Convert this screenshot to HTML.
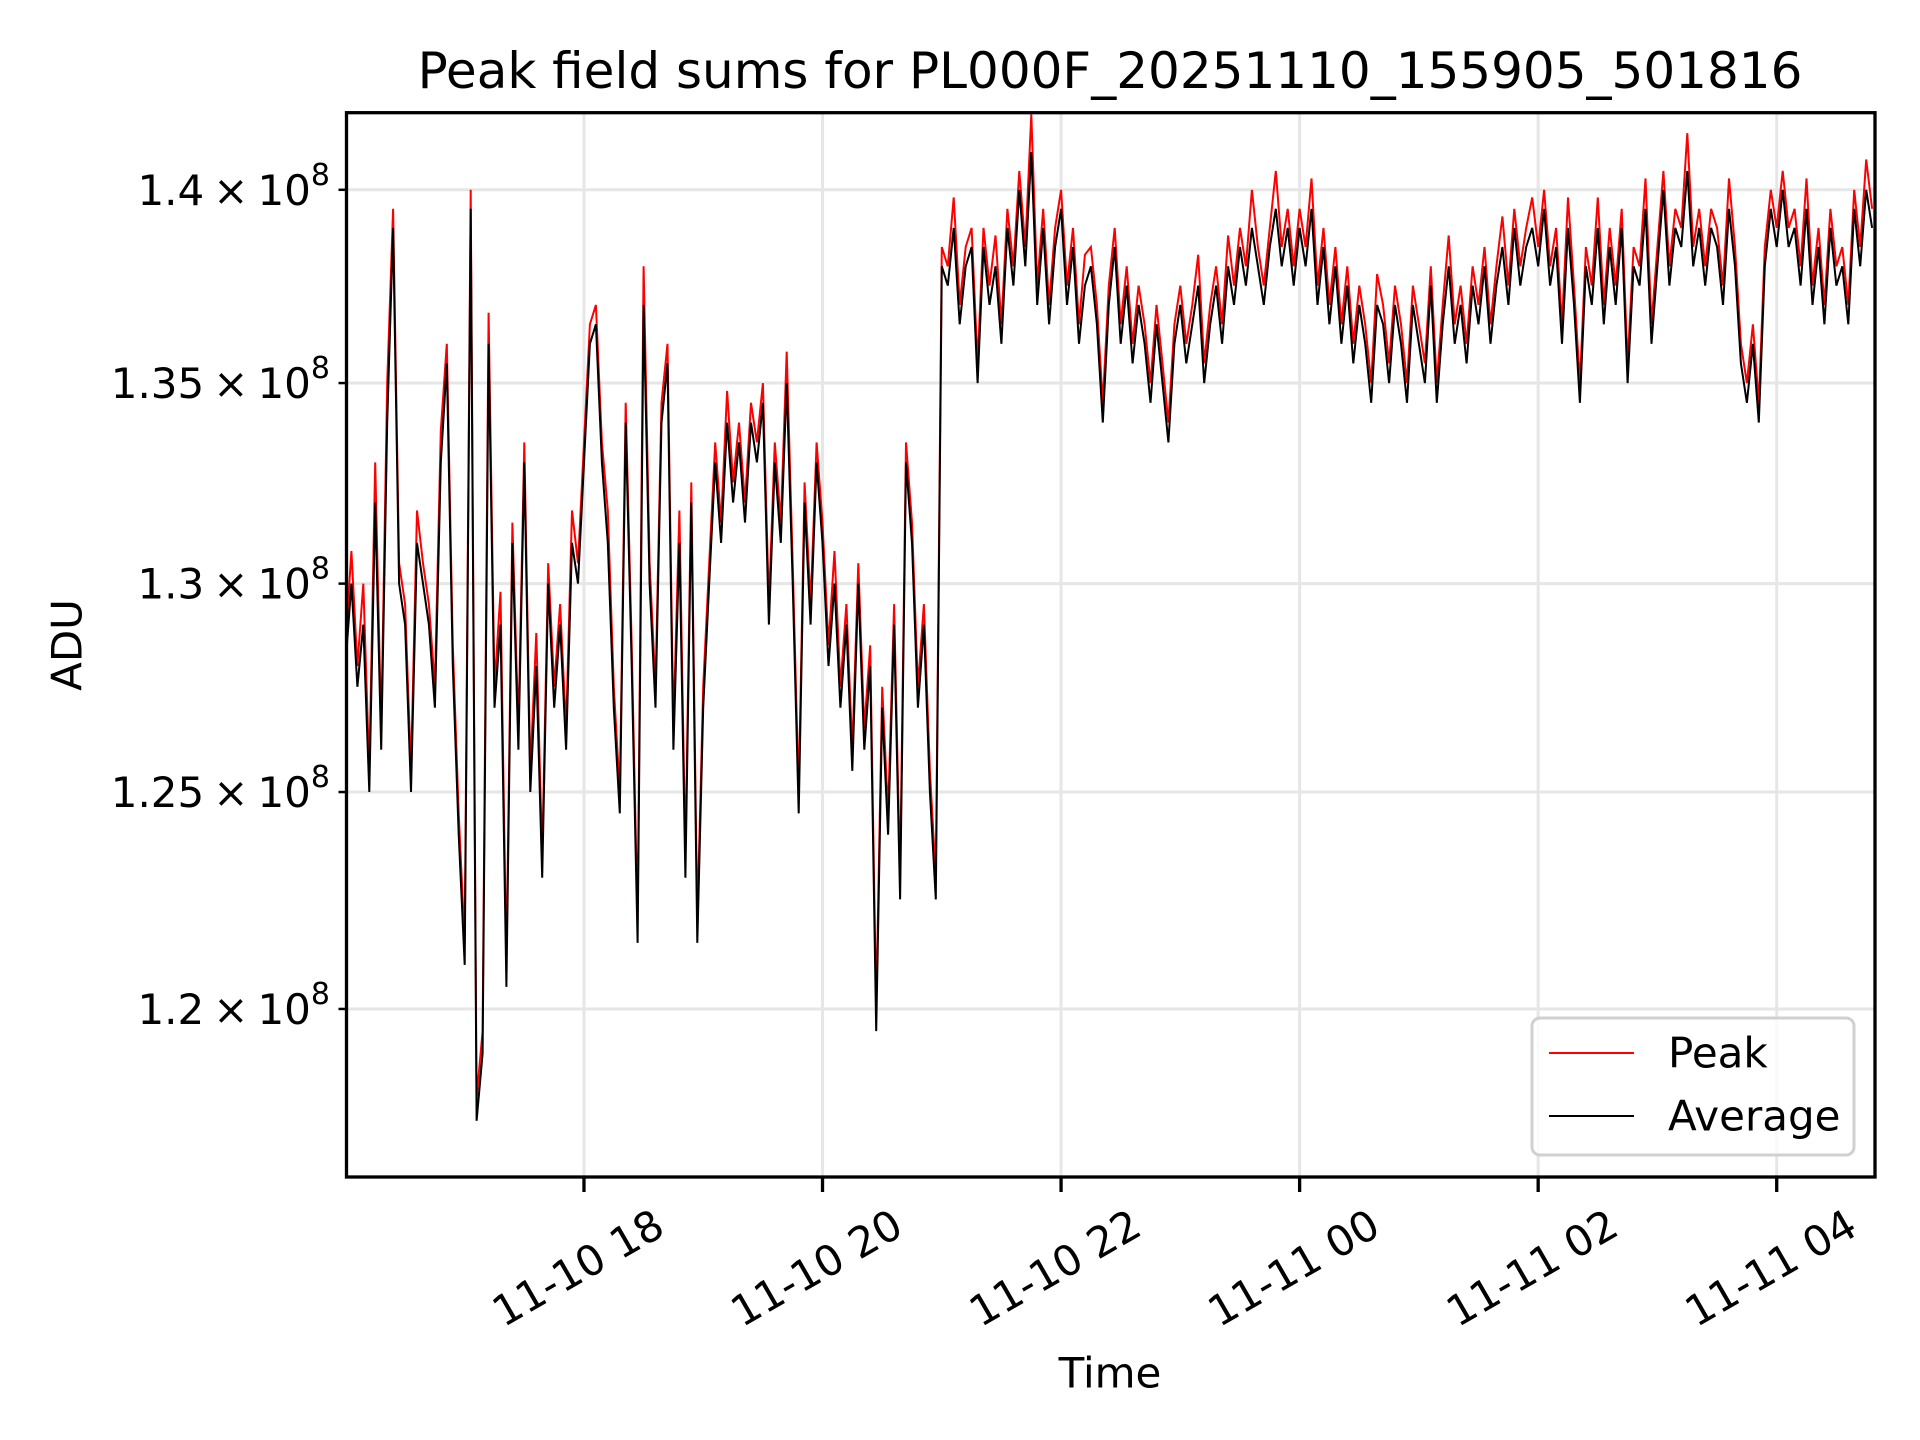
<!DOCTYPE html>
<html><head><meta charset="utf-8"><style>
html,body{margin:0;padding:0;background:#fff;}
svg{display:block;font-family:"DejaVu Sans","Liberation Sans",sans-serif;}
</style></head><body>
<svg id="chart" width="1920" height="1440" viewBox="0 0 1920 1440" xmlns="http://www.w3.org/2000/svg">
<rect width="1920" height="1440" fill="#fff"/>
<text x="1110" y="71" font-size="50" text-anchor="middle" dominant-baseline="central">Peak field sums for PL000F_20251110_155905_501816</text>
<g id="grid"></g>
<g id="series"></g>
<g id="axes"></g>
<text x="1110" y="1373" font-size="42" text-anchor="middle" dominant-baseline="central">Time</text>
<text x="0" y="0" font-size="42" text-anchor="middle" dominant-baseline="central" transform="translate(67,645) rotate(-90)">ADU</text>
<g>
<rect x="1532" y="1018" width="322" height="137" rx="8" fill="#fff" fill-opacity="0.8" stroke="#d0d0d0" stroke-width="3"/>
<line x1="1549" y1="1053" x2="1634" y2="1053" stroke="#ff0000" stroke-width="2"/>
<text x="1668" y="1053" font-size="42" dominant-baseline="central">Peak</text>
<line x1="1549" y1="1116" x2="1634" y2="1116" stroke="#000" stroke-width="2"/>
<text x="1668" y="1116" font-size="42" dominant-baseline="central">Average</text>
</g>
</svg>
<script>
// values in units of 1e6 ADU; times in hours since 11-10 00:00
const avgStart = 16.0;
const avgStep = 0.05;
const averageValues = [
128,130,127.5,129,125,132,126,134,139,130,129,125,131,130,129,127,133,135.5,128,124,
121,139.5,117.5,119,136,127,129,120.5,131,126,133,125,128,123,130,127,129,126,131,130,
133,136,136.5,133,131,127,124.5,134,128,121.5,137,130,127,134,135.5,126,131,123,132,121.5,
127,130,133,131,134,132,133.5,131.5,134,133,134.5,129,133,131,135,130,124.5,132,129,133,
131,128,130,127,129,125.5,130,126,128,119.5,127,124,129,122.5,133,131,127,129,125,122.5,
138,137.5,139,136.5,138,138.5,135,138.5,137,138,136,139,137.5,140,138,141,137,139,136.5,138.5,
139.5,137,138.5,136,137.5,138,136.5,134,137,138.5,136,137.5,135.5,137,136,134.5,136.5,135,133.5,136,
137,135.5,136.5,137.5,135,136.5,137.5,136,138,137,138.5,137.5,139,138,137,138.5,139.5,138,139,137.5,
139,138,139.5,137,138.5,136.5,138,136,137.5,135.5,137,136,134.5,137,136.5,135,137,136,134.5,137,
136,135,137.5,134.5,136.5,138,136,137,135.5,137.5,136.5,138,136,137.5,138.5,137,139,137.5,138.5,139,
138,139.5,137.5,138.5,136,139,137,134.5,138,137,139,136.5,138.5,137,139,135,138,137.5,139.5,136,
138,140,137.5,139,138.5,140.5,138,139,137.5,139,138.5,137,139.5,138,135.5,134.5,136,134,138,139.5,
138.5,140,138.5,139,137.5,139.5,137,138.5,136.5,139,137.5,138,136.5,139.5,138,140,139
];
const peakStart = 16.0;
const peakStep = 0.05;
const peakValues = [
128.5,130.8,128,130,125.5,133,126.5,135,139.5,130.5,129.5,125.5,131.8,130.5,129.5,127.5,133.8,136,128.5,124.5,
121.5,140,118,119.5,136.8,127.5,129.8,121,131.5,126.5,133.5,125.5,128.8,123.5,130.5,127.5,129.5,126.5,131.8,130.5,
133.5,136.5,137,133.5,131.8,127.5,125,134.5,128.5,122,138,130.5,127.5,134.5,136,126.5,131.8,123.5,132.5,122,
127.5,130.5,133.5,131.5,134.8,132.5,134,132,134.5,133.5,135,129.5,133.5,131.5,135.8,130.5,125,132.5,129.5,133.5,
131.5,128.5,130.8,127.5,129.5,126,130.5,126.5,128.5,120,127.5,124.5,129.5,123,133.5,131.5,127.5,129.5,125.5,123,
138.5,138,139.8,137,138.5,139,135.5,139,137.5,138.8,136.5,139.5,138,140.5,138.5,142,137.5,139.5,137,139,
140,137.5,139,136.5,138.3,138.5,137,134.5,137.5,139,136.5,138,136,137.5,136.5,135,137,135.5,134,136.5,
137.5,136,137,138.3,135.5,137,138,136.5,138.8,137.5,139,138,140,138.5,137.5,139,140.5,138.5,139.5,138,
139.5,138.5,140.3,137.5,139,137,138.5,136.5,138,136,137.5,136.5,135,137.8,137,135.5,137.5,136.5,135,137.5,
136.5,135.5,138,135,137,138.8,136.5,137.5,136,138,137,138.5,136.5,138,139.3,137.5,139.5,138,139,139.8,
138.5,140,138,139,136.5,139.8,137.5,135,138.5,137.5,139.8,137,139,137.5,139.5,135.5,138.5,138,140.3,136.5,
138.5,140.5,138,139.5,139,141.5,138.5,139.5,138,139.5,139,137.5,140.3,138.5,136,135,136.5,134.5,138.5,140,
139,140.5,139,139.5,138,140.3,137.5,139,137,139.5,138,138.5,137,140,138.5,140.8,139.5
];
const xTickHours = [18,20,22,24,26,28];
const xTickLabels = ["11-10 18","11-10 20","11-10 22","11-11 00","11-11 02","11-11 04"];
const yTickValues = [120,125,130,135,140];
const yTickLabels = ["1.2","1.25","1.3","1.35","1.4"];

const L=346.5,R=1875,T=112.7,B=1177;
const xMin=16.009, xMax=28.824;
const yRefV=140, yRefPx=189.8, pxPerLn=5314;
function xs(h){return L+(h-xMin)/(xMax-xMin)*(R-L);}
function ys(v){return yRefPx-Math.log(v/yRefV)*pxPerLn;}
const NS="http://www.w3.org/2000/svg";
function mk(tag,attrs,parent){const e=document.createElementNS(NS,tag);for(const k in attrs)e.setAttribute(k,attrs[k]);parent.appendChild(e);return e;}
const grid=document.getElementById('grid'),axes=document.getElementById('axes'),series=document.getElementById('series');
xTickHours.forEach((h,i)=>{
  const x=xs(h);
  const g=mk('line',{x1:x,y1:T,x2:x,y2:B,stroke:'#e6e6e6','stroke-width':3},grid);
  
  
  const t=mk('line',{x1:x,y1:B,x2:x,y2:B+15,stroke:'#000','stroke-width':3.3},axes);
  
  
  const lb=mk('text',{x:0,y:0,'font-size':42,'text-anchor':'middle','dominant-baseline':'central',transform:`translate(${x-6},1268) rotate(-30)`},axes);
  lb.textContent=xTickLabels[i];
  
  
});
yTickValues.forEach((v,i)=>{
  const y=ys(v);
  const g=mk('line',{x1:L,y1:y,x2:R,y2:y,stroke:'#e6e6e6','stroke-width':3},grid);
  
  
  const t=mk('line',{x1:L-8,y1:y,x2:L,y2:y,stroke:'#000','stroke-width':2.5},axes);
  
  
  const lb=mk('text',{x:330,y:y+15,'font-size':42,'text-anchor':'end'},axes);
  
  
  const a=mk('tspan',{},lb);a.textContent=yTickLabels[i];
  const b=mk('tspan',{dx:9},lb);b.textContent='×';
  const c=mk('tspan',{dx:9},lb);c.textContent='10';
  const s=mk('tspan',{dy:-20,'font-size':30},lb);s.textContent='8';
});
function path(vals,start,step){
  let d='';vals.forEach((v,i)=>{d+=(i?'L':'M')+xs(start+i*step).toFixed(1)+','+ys(v).toFixed(1);});return d;
}
const cp=mk('clipPath',{id:'clip'},series);mk('rect',{x:L,y:T,width:R-L,height:B-T},cp);
const pk=mk('path',{d:path(peakValues,peakStart,peakStep),fill:'none',stroke:'#ff0000','stroke-width':2,'clip-path':'url(#clip)'},series);


const av=mk('path',{d:path(averageValues,avgStart,avgStep),fill:'none',stroke:'#000','stroke-width':2,'clip-path':'url(#clip)'},series);


const fr=mk('rect',{x:L,y:T,width:R-L,height:B-T,fill:'none',stroke:'#000','stroke-width':3.3},axes);


</script>
</body></html>
